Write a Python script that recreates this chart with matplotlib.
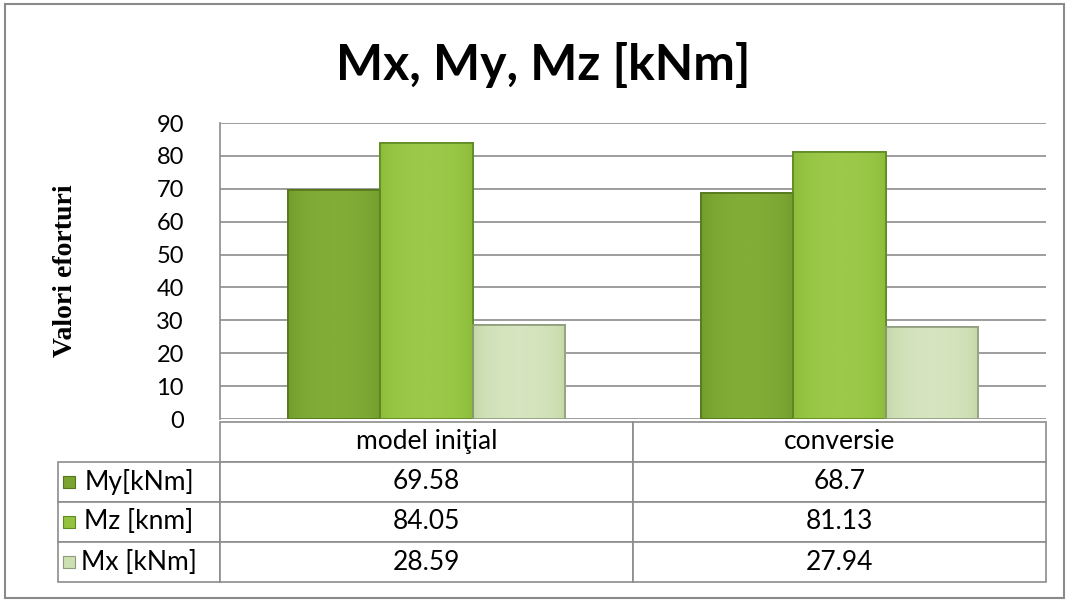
import matplotlib.pyplot as plt
import numpy as np
from matplotlib.colors import LinearSegmentedColormap
from matplotlib.patches import Rectangle

# Valori eforturi pe cele doua modele
categorii = ["model iniţial", "conversie"]
serii = ["My[kNm]", "Mz [knm]", "Mx [kNm]"]
my_vals = [69.58, 68.7]
mz_vals = [84.05, 81.13]
mx_vals = [28.59, 27.94]
etichete_tabel = [["69.58", "68.7"], ["84.05", "81.13"], ["28.59", "27.94"]]

culori = ["#7aa32f", "#93c23f", "#cde0b0"]
margini = ["#55761c", "#5f8a22", "#8d9c7c"]
# nuante pentru efectul de relief al barelor (margine -> centru)
nuante = [("#719b2b", "#82ad37"), ("#8abb37", "#9cc94a"), ("#c2d6a4", "#d6e5c0")]

font_sans = ["Lato", "DejaVu Sans"]

fig = plt.figure(figsize=(10.71, 6.02), dpi=100)
fig.patch.set_facecolor("white")

# chenarul exterior al graficului
fig.patches.append(Rectangle((5 / 1071, 4 / 602), 1059 / 1071, 594 / 602,
                             transform=fig.transFigure, fill=False,
                             edgecolor="#8a8a8a", lw=1.5))

ax = fig.add_axes([220 / 1071, 1 - 419 / 602, 826 / 1071, 296 / 602])

x = np.arange(len(categorii))
w = 0.223
grad = np.sin(np.linspace(0, np.pi, 64)) ** 0.5
grad = grad[None, :]
for i, (vals, c, e) in enumerate(zip([my_vals, mz_vals, mx_vals], culori, margini)):
    bars = ax.bar(x + (i - 1) * w, vals, width=w, color=c, edgecolor=e, lw=1.2, zorder=3)
    cmap = LinearSegmentedColormap.from_list("b%d" % i, nuante[i])
    for b in bars:
        im = ax.imshow(grad, cmap=cmap, aspect="auto", zorder=3.5, interpolation="bilinear",
                       extent=[b.get_x(), b.get_x() + b.get_width(), 0, b.get_height()])
        im.set_clip_path(b)
        ax.add_patch(Rectangle((b.get_x(), 0), b.get_width(), b.get_height(),
                               fill=False, edgecolor=e, lw=1.2, zorder=4))

ax.set_xlim(-0.5, 1.5)
ax.set_ylim(0, 90)
ax.set_yticks(range(0, 91, 10))
ax.set_xticks([])
ax.yaxis.grid(True, color="#8c8c8c", lw=1.2, zorder=0)
ax.set_axisbelow(True)
for s in ["top", "right", "bottom"]:
    ax.spines[s].set_visible(False)
ax.spines["left"].set_color("#8c8c8c")
ax.spines["left"].set_linewidth(1.2)
ax.tick_params(axis="y", length=0, pad=26, labelsize=17)
for t in ax.get_yticklabels():
    t.set_family(font_sans)

ax.set_ylabel("Valori eforturi", family="Liberation Serif", fontweight="bold",
              fontsize=20, labelpad=56)

fig.text(0.507, 0.892, "Mx, My, Mz [kNm]", ha="center", va="center",
         family=font_sans, fontweight="bold", fontsize=36)

# tabelul de date sub grafic; prima coloana contine numele seriilor
bx0, by0, bw, bh = (58 - 220) / 826, (419 - 582) / 296, (1046 - 58) / 826, (582 - 422) / 296
continut = [[s] + r for s, r in zip(serii, etichete_tabel)]
tab = ax.table(cellText=continut, colLabels=[""] + categorii,
               colWidths=[162 / 988, 413 / 988, 413 / 988],
               cellLoc="center", bbox=[bx0, by0, bw, bh])
tab.auto_set_font_size(False)
for (r, c), cell in tab.get_celld().items():
    cell.set_edgecolor("#8c8c8c")
    cell.set_linewidth(1.2)
    cell.get_text().set_fontsize(19)
    cell.get_text().set_family(font_sans)
    if r == 0 and c == 0:
        cell.visible_edges = ""
    elif c == 0:
        cell._loc = "left"
        cell.PAD = 0.1

# marcajele de legenda din prima coloana
rh = bh / 4
for i, c in enumerate(culori):
    yc = by0 + bh - rh * (i + 1.5)
    ax.add_patch(Rectangle((bx0 + 5 / 826, yc - 6 / 296), 12 / 826, 12 / 296,
                           transform=ax.transAxes, clip_on=False,
                           facecolor=c, edgecolor=margini[i], lw=0.8, zorder=5))

fig.savefig("out.png", dpi=100)
